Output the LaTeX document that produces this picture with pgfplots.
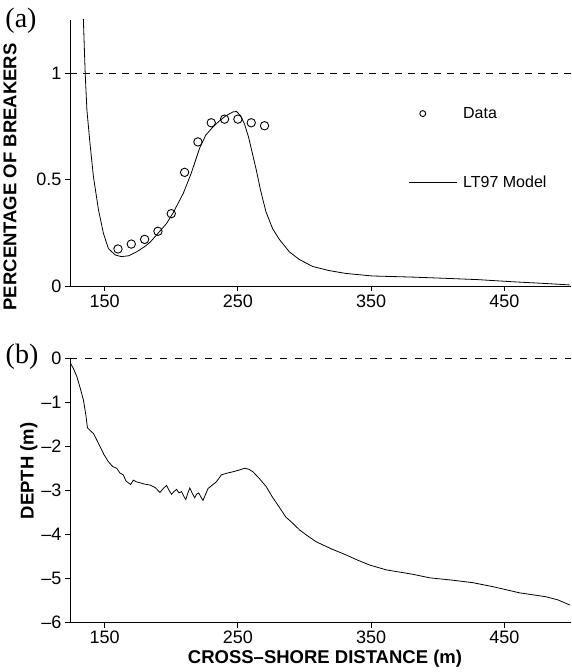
\documentclass[border=0pt]{standalone}
\usepackage{pgfplots}
\pgfplotsset{compat=1.18}
\usepackage{fontspec}
\setmainfont{Liberation Sans}
\newfontfamily\seriffont{Liberation Serif}

\pgfplotstableread{
x y
160 0.174
170 0.197
180 0.219
190 0.257
200 0.340
210 0.534
220 0.677
230 0.767
240 0.784
250 0.784
260 0.767
270 0.753
}\breakdata

\pgfplotstableread{
x y
134.0 1.26
135.4 1.00
136.7 0.826
139.0 0.67
141.6 0.513
145.4 0.357
149.1 0.247
152.8 0.176
157.9 0.146
162.5 0.138
168.0 0.142
174.1 0.161
180.0 0.185
184.0 0.205
189.0 0.240
196.5 0.294
201.5 0.345
209.0 0.435
215.0 0.530
221.4 0.650
226.0 0.710
231.4 0.748
236.0 0.775
241.0 0.800
246.3 0.818
249.0 0.820
252.0 0.800
255.0 0.760
258.0 0.700
261.0 0.620
264.0 0.540
267.0 0.450
271.0 0.350
276.0 0.270
281.0 0.220
288.7 0.160
296.0 0.125
306.0 0.092
318.0 0.073
331.0 0.059
351.0 0.047
380.0 0.042
406.0 0.036
430.0 0.030
456.0 0.020
480.0 0.012
499.0 0.005
}\modeldata

\pgfplotstableread{
x y
124.3 -0.10
126.5 -0.22
129.2 -0.41
131.5 -0.65
134.1 -0.94
136.0 -1.30
137.1 -1.57
139.0 -1.63
141.6 -1.70
144.0 -1.84
146.6 -2.00
149.5 -2.18
152.8 -2.34
156.0 -2.45
159.1 -2.49
161.5 -2.60
164.0 -2.64
166.0 -2.78
167.8 -2.82
169.5 -2.86
171.5 -2.76
174.0 -2.80
176.5 -2.82
180.0 -2.85
184.0 -2.87
188.0 -2.93
191.5 -3.04
194.0 -2.95
196.5 -2.88
198.5 -3.00
200.2 -3.08
202.0 -3.02
204.0 -2.97
205.8 -3.05
207.7 -3.02
209.3 -3.12
210.9 -3.20
212.5 -3.05
213.9 -2.94
215.8 -3.06
217.6 -3.16
219.0 -3.08
220.6 -3.05
222.2 -3.14
223.8 -3.22
225.5 -3.10
227.6 -2.95
230.5 -2.88
233.8 -2.80
237.6 -2.64
242.0 -2.60
246.3 -2.57
251.0 -2.53
255.1 -2.49
258.0 -2.51
261.3 -2.57
266.0 -2.72
271.3 -2.91
276.0 -3.15
281.2 -3.38
286.0 -3.60
291.2 -3.74
296.2 -3.89
302.0 -4.02
308.7 -4.16
320.0 -4.32
331.2 -4.46
340.0 -4.58
349.0 -4.69
361.4 -4.80
381.4 -4.90
393.9 -4.98
410.0 -5.03
426.3 -5.09
441.2 -5.18
461.2 -5.32
481.2 -5.41
490.0 -5.48
499.3 -5.60
}\depthdata

\pgfplotsset{
  panel/.style={
    scale only axis, width=501pt,
    axis lines=left,
    axis line style={line width=0.9pt, -},
    tick align=outside, major tick length=5pt,
    tick style={line width=0.9pt, black},
    xmin=124, xmax=500,
    xtick={150,250,350,450},
    xticklabels={150,250,350,450},
    tick label style={font=\fontsize{18}{21}\selectfont},
    label style={font=\bfseries\fontsize{18.5}{21}\selectfont},
  }
}

\begin{document}
\begin{tikzpicture}[x=1pt,y=1pt]
\useasboundingbox (0,0) rectangle (571,672);

\begin{axis}[panel,
  at={(70pt,386pt)}, anchor=south west, height=266pt,
  ymin=0, ymax=1.25,
  ytick={0,0.5,1}, yticklabels={0,0.5,1},
  ylabel={PERCENTAGE OF BREAKERS},
  ylabel style={at={(axis description cs:-0.12,0.41)}, anchor=center},
  legend style={draw=none, fill=none, at={(axis description cs:0.675,0.68)}, anchor=north west,
    font=\fontsize{16}{19}\selectfont, row sep=52pt, inner sep=0pt,
    /tikz/every odd column/.append style={column sep=4pt}},
  legend cell align=left,
]
\addplot[black, dash pattern=on 7pt off 6pt, line width=0.7pt, forget plot] coordinates {(124,1) (500,1)};
\addplot[only marks, mark=o, mark size=4.2pt, mark options={line width=0.9pt, black},
  legend image code/.code={\draw[black, line width=0.9pt, mark=o, mark size=3pt, only marks] plot coordinates {(14pt,0pt)};}]
  table[x=x,y=y] {\breakdata};
\addlegendentry{Data}
\addplot[black, line width=0.8pt, no marks,
  legend image code/.code={\draw[black, line width=0.8pt] (0pt,0pt) -- (48pt,0pt);}]
  table[x=x,y=y] {\modeldata};
\addlegendentry{LT97 Model}
\end{axis}

\begin{axis}[panel,
  at={(70pt,49.3pt)}, anchor=south west, height=264pt,
  ymin=-6, ymax=0,
  ytick={-6,-5,-4,-3,-2,-1,0}, yticklabels={–6,–5,–4,–3,–2,–1,0},
  ylabel={DEPTH (m)},
  ylabel style={at={(axis description cs:-0.082,0.575)}, anchor=center},
  xlabel={CROSS–SHORE DISTANCE (m)},
  xlabel style={at={(axis description cs:0.509,-0.137)}, anchor=center},
]
\addplot[black, dash pattern=on 7pt off 8pt, line width=0.7pt] coordinates {(124,0) (500,0)};
\addplot[black, line width=0.8pt, no marks] table[x=x,y=y] {\depthdata};
\end{axis}

\node[font=\seriffont\fontsize{28}{30}\selectfont] at (21,651) {(a)};
\node[font=\seriffont\fontsize{28}{30}\selectfont] at (22,315) {(b)};
\end{tikzpicture}
\end{document}
